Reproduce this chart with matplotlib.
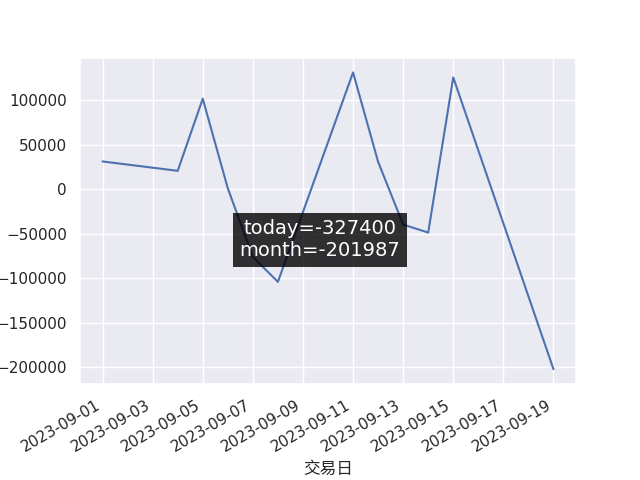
import matplotlib
matplotlib.use("Agg")
import matplotlib.pyplot as plt
import matplotlib.dates as mdates
import seaborn as sns
import pandas as pd

sns.set_theme()
plt.rcParams['font.family'] = ['DejaVu Sans', 'Noto Sans CJK SC']

dates = ["2023-09-01", "2023-09-04", "2023-09-05", "2023-09-06", "2023-09-07",
         "2023-09-08", "2023-09-11", "2023-09-12", "2023-09-13", "2023-09-14",
         "2023-09-15", "2023-09-19"]
values = [31100, 20600, 101500, 1000, -76000, -104000, 131000, 30700,
          -39700, -48700, 125413, -201987]
today = -327400
month = -201987
xlabel = "交易日"

x = pd.to_datetime(dates)

fig, ax = plt.subplots(figsize=(6.4, 4.8), dpi=100)
ax.plot(x, values, color="#4c72b0", linewidth=1.5)
ax.xaxis.set_major_locator(mdates.DayLocator(bymonthday=range(1, 32, 2)))
ax.xaxis.set_major_formatter(mdates.DateFormatter("%Y-%m-%d"))
ax.set_xlabel(xlabel)
fig.autofmt_xdate()

fig.text(0.5, 0.5, f"today={today}\nmonth={month}", ha="center", va="center",
         color="white", fontsize=14,
         bbox=dict(facecolor="black", alpha=0.8, edgecolor="none", boxstyle="square,pad=0.35"))

fig.savefig("out.png", dpi=100)
